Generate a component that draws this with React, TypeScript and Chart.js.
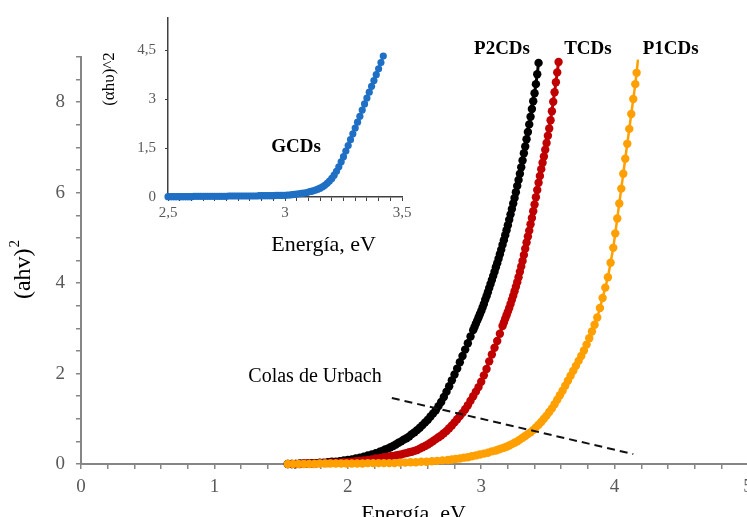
import React, { useEffect, useRef } from 'react';
import { Chart, registerables } from 'chart.js';

Chart.register(...registerables);

const SERIF = '"Liberation Serif", "Times New Roman", serif';

// ---- Main Tauc plot data (energy in eV, (ahv)^2) ----
const p2Energy = [
  1.55, 1.58, 1.61, 1.64, 1.67, 1.70, 1.73, 1.76, 1.79, 1.82, 1.85, 1.88, 1.91, 1.94, 1.97, 2.00,
  2.03, 2.06, 2.09, 2.12, 2.15, 2.18, 2.21, 2.24, 2.26, 2.28, 2.30, 2.32, 2.34, 2.36, 2.38, 2.40,
  2.42, 2.44, 2.46, 2.48, 2.50, 2.52, 2.54, 2.56, 2.58, 2.60, 2.62, 2.64, 2.66, 2.68, 2.70, 2.72,
  2.74, 2.76, 2.78, 2.80, 2.82, 2.84, 2.86, 2.88, 2.90, 2.92, 2.94, 2.95, 2.96, 2.97, 2.98, 2.99,
  3.00, 3.01, 3.02, 3.03, 3.04, 3.05, 3.06, 3.07, 3.08, 3.09, 3.10, 3.11, 3.12, 3.13, 3.14, 3.15,
  3.16, 3.17, 3.18, 3.19, 3.20, 3.21, 3.22, 3.23, 3.24, 3.25, 3.26, 3.27, 3.28, 3.29, 3.30, 3.31,
  3.32, 3.33, 3.34, 3.35, 3.36, 3.37, 3.38, 3.39, 3.40, 3.41, 3.42, 3.43,
];
const p2Values = [
  0.00, 0.00, 0.00, 0.01, 0.01, 0.01, 0.02, 0.02, 0.03, 0.03, 0.04, 0.05, 0.05, 0.06, 0.08, 0.09,
  0.10, 0.12, 0.14, 0.16, 0.19, 0.21, 0.24, 0.27, 0.29, 0.32, 0.34, 0.37, 0.40, 0.43, 0.47, 0.50,
  0.54, 0.57, 0.61, 0.66, 0.70, 0.75, 0.80, 0.86, 0.92, 0.98, 1.05, 1.12, 1.19, 1.28, 1.37, 1.48,
  1.60, 1.72, 1.85, 1.98, 2.11, 2.25, 2.39, 2.53, 2.67, 2.82, 2.96, 3.03, 3.10, 3.17, 3.24, 3.31,
  3.38, 3.46, 3.54, 3.63, 3.71, 3.80, 3.89, 3.98, 4.07, 4.16, 4.25, 4.35, 4.44, 4.54, 4.64, 4.74,
  4.85, 4.95, 5.06, 5.17, 5.28, 5.40, 5.52, 5.64, 5.76, 5.88, 6.01, 6.15, 6.28, 6.42, 6.56, 6.71,
  6.87, 7.02, 7.18, 7.34, 7.51, 7.68, 7.85, 8.02, 8.20, 8.40, 8.62, 8.87,
];

const tEnergy = [
  1.55, 1.58, 1.61, 1.64, 1.67, 1.70, 1.73, 1.76, 1.79, 1.82, 1.85, 1.88, 1.91, 1.94, 1.97, 2.00,
  2.03, 2.06, 2.09, 2.12, 2.15, 2.18, 2.21, 2.24, 2.27, 2.30, 2.33, 2.36, 2.38, 2.40, 2.42, 2.44,
  2.46, 2.48, 2.50, 2.52, 2.54, 2.56, 2.58, 2.60, 2.62, 2.64, 2.66, 2.68, 2.70, 2.72, 2.74, 2.76,
  2.78, 2.80, 2.82, 2.84, 2.86, 2.88, 2.90, 2.92, 2.94, 2.96, 2.98, 3.00, 3.02, 3.04, 3.06, 3.08,
  3.10, 3.12, 3.14, 3.16, 3.17, 3.18, 3.19, 3.20, 3.21, 3.22, 3.23, 3.24, 3.25, 3.26, 3.27, 3.28,
  3.29, 3.30, 3.31, 3.32, 3.33, 3.34, 3.35, 3.36, 3.37, 3.38, 3.39, 3.40, 3.41, 3.42, 3.43, 3.44,
  3.45, 3.46, 3.47, 3.48, 3.49, 3.50, 3.51, 3.52, 3.53, 3.54, 3.55, 3.56, 3.57, 3.58,
];
const tValues = [
  0.00, 0.00, 0.00, 0.00, 0.01, 0.01, 0.01, 0.01, 0.02, 0.02, 0.02, 0.03, 0.03, 0.03, 0.04, 0.04,
  0.05, 0.06, 0.07, 0.08, 0.09, 0.10, 0.12, 0.13, 0.15, 0.16, 0.18, 0.19, 0.20, 0.21, 0.23, 0.24,
  0.26, 0.27, 0.29, 0.31, 0.34, 0.37, 0.40, 0.43, 0.47, 0.51, 0.55, 0.59, 0.63, 0.68, 0.73, 0.79,
  0.85, 0.92, 0.99, 1.06, 1.13, 1.21, 1.30, 1.40, 1.50, 1.60, 1.70, 1.82, 1.96, 2.10, 2.27, 2.42,
  2.57, 2.72, 2.88, 3.05, 3.13, 3.21, 3.29, 3.37, 3.45, 3.54, 3.63, 3.72, 3.82, 3.92, 4.02, 4.13,
  4.25, 4.37, 4.49, 4.62, 4.76, 4.90, 5.03, 5.16, 5.30, 5.44, 5.59, 5.74, 5.90, 6.06, 6.22, 6.37,
  6.52, 6.66, 6.80, 6.95, 7.10, 7.26, 7.42, 7.60, 7.80, 8.01, 8.22, 8.44, 8.66, 8.89,
];

const p1Energy = [
  1.55, 1.59, 1.63, 1.67, 1.71, 1.75, 1.79, 1.83, 1.87, 1.91, 1.95, 1.99, 2.03, 2.07, 2.11, 2.15,
  2.19, 2.23, 2.27, 2.31, 2.35, 2.39, 2.43, 2.47, 2.51, 2.55, 2.59, 2.63, 2.67, 2.71, 2.75, 2.78,
  2.81, 2.84, 2.87, 2.90, 2.93, 2.96, 2.99, 3.02, 3.05, 3.08, 3.11, 3.13, 3.15, 3.17, 3.19, 3.21,
  3.23, 3.25, 3.27, 3.29, 3.31, 3.33, 3.35, 3.37, 3.39, 3.41, 3.43, 3.45, 3.47, 3.49, 3.51, 3.53,
  3.55, 3.57, 3.59, 3.61, 3.63, 3.65, 3.67, 3.69, 3.71, 3.73, 3.75, 3.77, 3.79, 3.81, 3.83, 3.85,
  3.87, 3.89, 3.91, 3.93, 3.95, 3.97, 3.99, 4.005, 4.02, 4.035, 4.05, 4.065, 4.08, 4.095, 4.11,
  4.125, 4.14, 4.155, 4.165, 4.175,
];
const p1Values = [
  0.00, 0.00, 0.00, 0.00, 0.00, 0.00, 0.01, 0.01, 0.01, 0.01, 0.01, 0.01, 0.01, 0.01, 0.01, 0.02,
  0.02, 0.02, 0.02, 0.02, 0.02, 0.03, 0.03, 0.04, 0.04, 0.05, 0.05, 0.06, 0.07, 0.08, 0.09, 0.10,
  0.11, 0.12, 0.14, 0.15, 0.17, 0.19, 0.21, 0.23, 0.25, 0.28, 0.30, 0.32, 0.34, 0.36, 0.38, 0.41,
  0.44, 0.47, 0.50, 0.54, 0.58, 0.62, 0.66, 0.70, 0.75, 0.81, 0.87, 0.93, 1.00, 1.07, 1.15, 1.23,
  1.32, 1.42, 1.52, 1.62, 1.73, 1.84, 1.95, 2.06, 2.17, 2.28, 2.39, 2.51, 2.64, 2.78, 2.93, 3.08,
  3.24, 3.45, 3.67, 3.90, 4.13, 4.45, 4.78, 5.10, 5.43, 5.76, 6.09, 6.42, 6.75, 7.08, 7.41,
  7.74, 8.07, 8.40, 8.65, 8.94,
];

// Urbach-tail guide (dashed)
const urbachEnergy = [2.33, 4.14];
const urbachValues = [1.46, 0.22];

// ---- Inset: GCDs ----
const gEnergy = [
  2.50, 2.51, 2.52, 2.53, 2.54, 2.55, 2.56, 2.57, 2.58, 2.59, 2.60, 2.61, 2.62, 2.63, 2.64, 2.65,
  2.66, 2.67, 2.68, 2.69, 2.70, 2.71, 2.72, 2.73, 2.74, 2.75, 2.76, 2.77, 2.78, 2.79, 2.80, 2.81,
  2.82, 2.83, 2.84, 2.85, 2.86, 2.87, 2.88, 2.89, 2.90, 2.91, 2.92, 2.93, 2.94, 2.95, 2.96, 2.97,
  2.98, 2.99, 3.00, 3.01, 3.02, 3.03, 3.04, 3.05, 3.06, 3.07, 3.08, 3.09, 3.10, 3.11, 3.12, 3.13,
  3.14, 3.15, 3.16, 3.17, 3.18, 3.19, 3.20, 3.21, 3.22, 3.23, 3.24, 3.25, 3.26, 3.27, 3.28, 3.29,
  3.30, 3.31, 3.32, 3.33, 3.34, 3.35, 3.36, 3.37, 3.38, 3.39, 3.40, 3.41, 3.42,
];
const gValues = [
  0.01, 0.01, 0.01, 0.01, 0.01, 0.01, 0.01, 0.01, 0.01, 0.01, 0.01, 0.02, 0.02, 0.02, 0.02, 0.02,
  0.02, 0.02, 0.02, 0.02, 0.02, 0.02, 0.02, 0.02, 0.02, 0.02, 0.03, 0.03, 0.03, 0.03, 0.03, 0.03,
  0.03, 0.03, 0.03, 0.03, 0.03, 0.03, 0.03, 0.04, 0.04, 0.04, 0.04, 0.04, 0.04, 0.04, 0.05, 0.05,
  0.05, 0.05, 0.05, 0.06, 0.06, 0.07, 0.08, 0.09, 0.10, 0.11, 0.12, 0.13, 0.15, 0.17, 0.19, 0.21,
  0.24, 0.27, 0.31, 0.36, 0.42, 0.49, 0.57, 0.67, 0.79, 0.93, 1.08, 1.24, 1.41, 1.58, 1.76, 1.94,
  2.12, 2.30, 2.48, 2.67, 2.86, 3.04, 3.22, 3.40, 3.58, 3.76, 3.94, 4.13, 4.33,
];

// Axis tick labels
const mainXTickLabels = ['0', '1', '2', '3', '4', '5'];
const mainYTickLabels = ['0', '2', '4', '6', '8'];
const insetXTickLabels = ['2,5', '3', '3,5'];
const insetYTickLabels = ['0', '1,5', '3', '4,5'];

const seriesNames = ['P2CDs', 'TCDs', 'P1CDs'];
const insetName = 'GCDs';

const BLACK = '#000000';
const RED = '#c00000';
const ORANGE = '#ffa000';
const BLUE = '#1f6fc4';
const MAIN_AXIS = '#868686';
const TICK_TEXT = '#595959';

const pts = (xs: number[], ys: number[]) => xs.map((x, i) => ({ x, y: ys[i] }));
const near = (a: number, b: number) => Math.abs(a - b) < 1e-6;
const range = (from: number, to: number, step: number) => {
  const out: number[] = [];
  const n = Math.round((to - from) / step);
  for (let i = 0; i <= n; i++) out.push(+(from + i * step).toFixed(4));
  return out;
};

const MAIN_W = 800;
const MAIN_H = 560;
const INSET_W = 330;
const INSET_H = 262;

const seriesStyle = (color: string, radius: number, width: number) => ({
  borderColor: color,
  backgroundColor: color,
  pointBackgroundColor: color,
  pointBorderWidth: 0,
  pointRadius: radius,
  borderWidth: width,
  showLine: true,
  clip: false as const,
});

const mainTextPlugin = {
  id: 'mainText',
  afterDraw(chart: any) {
    const { ctx, scales } = chart;
    const x = scales.x;
    const y = scales.y;
    ctx.save();
    ctx.fillStyle = '#000';
    ctx.textAlign = 'center';
    ctx.textBaseline = 'middle';

    // series names above the curve tops
    ctx.font = `bold 19px ${SERIF}`;
    const nameAnchors = [
      [3.156, 9.18],
      [3.80, 9.18],
      [4.42, 9.18],
    ];
    seriesNames.forEach((n, i) => {
      ctx.fillText(n, x.getPixelForValue(nameAnchors[i][0]), y.getPixelForValue(nameAnchors[i][1]));
    });

    // Urbach annotation
    ctx.font = `20px ${SERIF}`;
    ctx.fillText('Colas de Urbach', x.getPixelForValue(1.754), y.getPixelForValue(1.92));

    // x-axis title
    ctx.font = `22px ${SERIF}`;
    ctx.textBaseline = 'alphabetic';
    ctx.fillText('Energía, eV', (x.left + x.right) / 2 - 1, 520);

    // y-axis title with superscript
    ctx.translate(22, 270);
    ctx.rotate(-Math.PI / 2);
    ctx.textAlign = 'left';
    ctx.font = `24px ${SERIF}`;
    const base = '(ahv)';
    const w = ctx.measureText(base).width;
    ctx.font = `15px ${SERIF}`;
    const w2 = ctx.measureText('2').width;
    const start = -(w + w2) / 2;
    ctx.font = `24px ${SERIF}`;
    ctx.fillText(base, start, 8);
    ctx.font = `15px ${SERIF}`;
    ctx.fillText('2', start + w + 1, -3);
    ctx.restore();
  },
};

const insetTextPlugin = {
  id: 'insetText',
  afterDraw(chart: any) {
    const { ctx, scales } = chart;
    const x = scales.x;
    const y = scales.y;
    ctx.save();
    ctx.fillStyle = '#000';
    ctx.textAlign = 'center';
    ctx.textBaseline = 'middle';
    ctx.font = `bold 19px ${SERIF}`;
    ctx.fillText(insetName, x.getPixelForValue(3.047), y.getPixelForValue(1.52));

    ctx.font = `22px ${SERIF}`;
    ctx.fillText('Energía, eV', x.getPixelForValue(3.165), 245);

    ctx.translate(15, 79);
    ctx.rotate(-Math.PI / 2);
    ctx.font = `17px ${SERIF}`;
    ctx.fillText('(αhυ)^2', 0, 0);
    ctx.restore();
  },
};

function buildMain(canvas: HTMLCanvasElement) {
  const xTickValues = range(0, 5, 0.2);
  const yTickValues = range(0, 9, 0.5);
  return new Chart(canvas, {
    type: 'scatter',
    data: {
      datasets: [
        {
          label: 'Colas de Urbach',
          data: pts(urbachEnergy, urbachValues),
          borderColor: '#111',
          borderWidth: 2,
          borderDash: [8, 5],
          pointRadius: 0,
          showLine: true,
          clip: false,
        },
        {
          label: seriesNames[2],
          data: pts(p1Energy, p1Values),
          ...seriesStyle(ORANGE, 4.2, 2.5),
          pointRadius: (c: any) => (c.dataIndex === p1Energy.length - 1 ? 0 : 4.2),
        },
        { label: seriesNames[1], data: pts(tEnergy, tValues), ...seriesStyle(RED, 4.2, 3) },
        { label: seriesNames[0], data: pts(p2Energy, p2Values), ...seriesStyle(BLACK, 4.2, 3) },
      ] as any,
    },
    options: {
      responsive: false,
      animation: false,
      events: [],
      layout: { padding: { top: 57, right: MAIN_W - 748, left: 0, bottom: 0 } },
      plugins: { legend: { display: false }, tooltip: { enabled: false } },
      scales: {
        x: {
          type: 'linear',
          min: 0,
          max: 5,
          afterBuildTicks: (s: any) => {
            s.ticks = xTickValues.map((v) => ({ value: v }));
          },
          afterFit: (s: any) => {
            s.height = MAIN_H - 464;
          },
          ticks: {
            autoSkip: false,
            maxRotation: 0,
            padding: 7,
            color: TICK_TEXT,
            font: { family: SERIF, size: 19 },
            callback: (v: any) => {
              const i = mainXTickLabels.findIndex((_, k) => near(v, k));
              return i >= 0 ? mainXTickLabels[i] : '';
            },
          },
          grid: { drawOnChartArea: false, drawTicks: true, tickLength: 5, color: MAIN_AXIS, lineWidth: 1.5 },
          border: { color: MAIN_AXIS, width: 2 },
        },
        y: {
          type: 'linear',
          min: 0,
          max: 9,
          afterBuildTicks: (s: any) => {
            s.ticks = yTickValues.map((v) => ({ value: v }));
          },
          afterFit: (s: any) => {
            s.width = 81;
          },
          ticks: {
            autoSkip: false,
            padding: 11,
            color: TICK_TEXT,
            font: { family: SERIF, size: 19 },
            callback: (v: any) => {
              const i = mainYTickLabels.findIndex((_, k) => near(v, k * 2));
              return i >= 0 ? mainYTickLabels[i] : '';
            },
          },
          grid: { drawOnChartArea: false, drawTicks: true, tickLength: 5, color: MAIN_AXIS, lineWidth: 1.5 },
          border: { color: MAIN_AXIS, width: 2 },
        },
      },
    } as any,
    plugins: [mainTextPlugin],
  });
}

function buildInset(canvas: HTMLCanvasElement) {
  const xTickValues = range(2.5, 3.5, 0.05);
  const xLabelValues = [2.5, 3, 3.5];
  const yTickValues = [0, 1.5, 3, 4.5];
  return new Chart(canvas, {
    type: 'scatter',
    data: {
      datasets: [
        { label: insetName, data: pts(gEnergy, gValues), ...seriesStyle(BLUE, 3.6, 2.5) },
      ] as any,
    },
    options: {
      responsive: false,
      animation: false,
      events: [],
      layout: { padding: { top: 9, right: INSET_W - 307, left: 0, bottom: 0 } },
      plugins: { legend: { display: false }, tooltip: { enabled: false } },
      scales: {
        x: {
          type: 'linear',
          min: 2.5,
          max: 3.5,
          afterBuildTicks: (s: any) => {
            s.ticks = xTickValues.map((v) => ({ value: v }));
          },
          afterFit: (s: any) => {
            s.height = INSET_H - 197;
          },
          ticks: {
            autoSkip: false,
            maxRotation: 0,
            padding: 3,
            color: TICK_TEXT,
            font: { family: SERIF, size: 15 },
            callback: (v: any) => {
              const i = xLabelValues.findIndex((k) => near(v, k));
              return i >= 0 ? insetXTickLabels[i] : '';
            },
          },
          grid: { drawOnChartArea: false, drawTicks: true, tickLength: 4, color: '#404040', lineWidth: 1 },
          border: { color: '#404040', width: 1.5 },
        },
        y: {
          type: 'linear',
          min: 0,
          max: 5.5,
          afterBuildTicks: (s: any) => {
            s.ticks = yTickValues.map((v) => ({ value: v }));
          },
          afterFit: (s: any) => {
            s.width = 73;
          },
          ticks: {
            autoSkip: false,
            padding: 9,
            color: TICK_TEXT,
            font: { family: SERIF, size: 15 },
            callback: (v: any) => {
              const i = yTickValues.findIndex((k) => near(v, k));
              return i >= 0 ? insetYTickLabels[i] : '';
            },
          },
          grid: { drawOnChartArea: false, drawTicks: true, tickLength: 3, color: '#404040', lineWidth: 1 },
          border: { color: '#404040', width: 1.5 },
        },
      },
    } as any,
    plugins: [insetTextPlugin],
  });
}

export default function App() {
  const mainRef = useRef<HTMLCanvasElement>(null);
  const insetRef = useRef<HTMLCanvasElement>(null);

  useEffect(() => {
    const main = buildMain(mainRef.current!);
    const inset = buildInset(insetRef.current!);
    return () => {
      main.destroy();
      inset.destroy();
    };
  }, []);

  return (
    <div
      style={{
        position: 'fixed',
        left: 0,
        top: 0,
        width: 747,
        height: 517,
        overflow: 'hidden',
        background: '#fff',
      }}
    >
      <canvas
        ref={mainRef}
        width={MAIN_W}
        height={MAIN_H}
        style={{ position: 'absolute', left: 0, top: 0 }}
      />
      <canvas
        ref={insetRef}
        width={INSET_W}
        height={INSET_H}
        style={{ position: 'absolute', left: 95, top: 0 }}
      />
    </div>
  );
}
